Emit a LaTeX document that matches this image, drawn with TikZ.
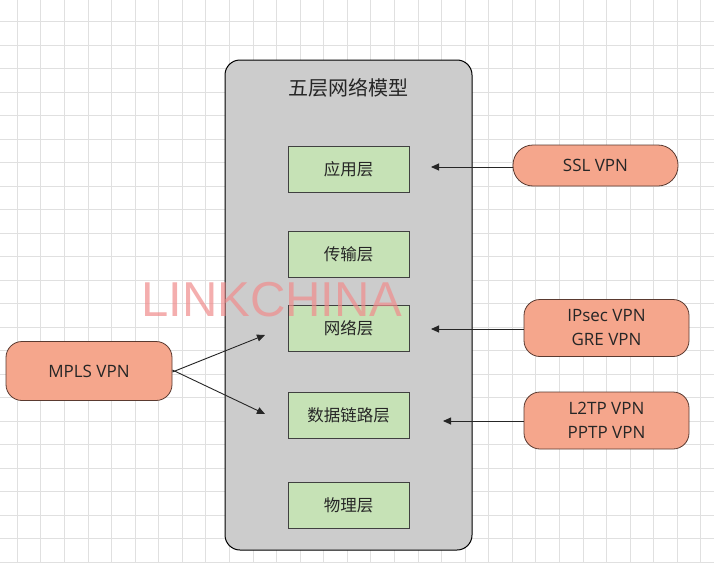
\documentclass[tikz,border=0pt]{standalone}
\usepackage{fontspec}
\setmainfont{Noto Sans CJK SC}
\newfontfamily\wmfont{Liberation Sans}
\newfontfamily\latfont{Open Sans}
\usetikzlibrary{arrows.meta}
\definecolor{gridc}{HTML}{E0E0E0}
\definecolor{layerfill}{HTML}{C6E2B6}
\definecolor{vpnfill}{HTML}{F5A68C}
\definecolor{vpndraw}{HTML}{5A3A30}
\definecolor{wmc}{HTML}{F08C8C}
\tikzset{
  layer/.style={draw=black!75, line width=0.8pt, fill=layerfill, minimum width=121pt, minimum height=46pt, inner sep=0pt, font=\fontsize{16.5}{18}\selectfont, text=black!85},
  vpn/.style={draw=vpndraw, line width=0.8pt, fill=vpnfill, rounded corners=16pt, inner sep=0pt, font=\latfont\fontsize{17}{24}\selectfont, text=black!85, align=center},
  link/.style={draw=black!85, line width=0.9pt, -{Triangle[length=8pt,width=7pt]}}
}
\begin{document}
\begin{tikzpicture}[x=1pt,y=-1pt]
\useasboundingbox (0,0) rectangle (714,562);
\fill[white] (0,0) rectangle (714,562);
% grid
\foreach \i in {0,...,30} {
  \draw[gridc, line width=0.6pt] ({17.2+23.57*\i},0) -- ({17.2+23.57*\i},562);
}
\foreach \j in {0,...,23} {
  \draw[gridc, line width=0.6pt] (0,{21.7+23.5*\j}) -- (714,{21.7+23.5*\j});
}
% container
\draw[black, line width=1pt, fill=black!20, rounded corners=15pt] (225,60) rectangle (472,550);
\node[font=\fontsize{20}{22}\selectfont, text=black!85] (title) at (348,88) {五层网络模型};
% layers
\node[layer] (app) at (348.5,169) {应用层};
\node[layer] (trans) at (348.5,254) {传输层};
\node[layer] (net) at (348.5,328.5) {网络层};
\node[layer] (dl) at (348.5,415) {数据链路层};
\node[layer] (phy) at (348.5,505) {物理层};
% vpn boxes
\node[vpn, minimum width=165pt, minimum height=41pt, rounded corners=20pt] (ssl) at (595.5,165.5) {SSL VPN};
\node[vpn, minimum width=165pt, minimum height=57pt] (ipsec) at (606.5,328) {IPsec VPN\\GRE VPN};
\node[vpn, minimum width=165pt, minimum height=57pt] (l2tp) at (606.5,420.5) {L2TP VPN\\PPTP VPN};
\node[vpn, minimum width=166pt, minimum height=59pt] (mpls) at (89,371) {MPLS VPN};
% arrow ends
\coordinate (a1) at (431,167);
\coordinate (a2) at (431,329);
\coordinate (a3) at (443,421);
\coordinate (a4) at (265,335);
\coordinate (a5) at (265,414);
\draw[link] (ssl.west |- a1) -- (a1);
\draw[link] (ipsec.west |- a2) -- (a2);
\draw[link] (l2tp.west |- a3) -- (a3);
\draw[link] ([yshift=-1pt]mpls.east) -- (a4);
\draw[link] ([yshift=1pt]mpls.east) -- (a5);
% watermark
\node[text=wmc, opacity=0.7, font=\wmfont\fontsize{49}{55}\selectfont, inner sep=0pt] (wm) at (272,300) {LINKCHINA};
\end{tikzpicture}
\end{document}
